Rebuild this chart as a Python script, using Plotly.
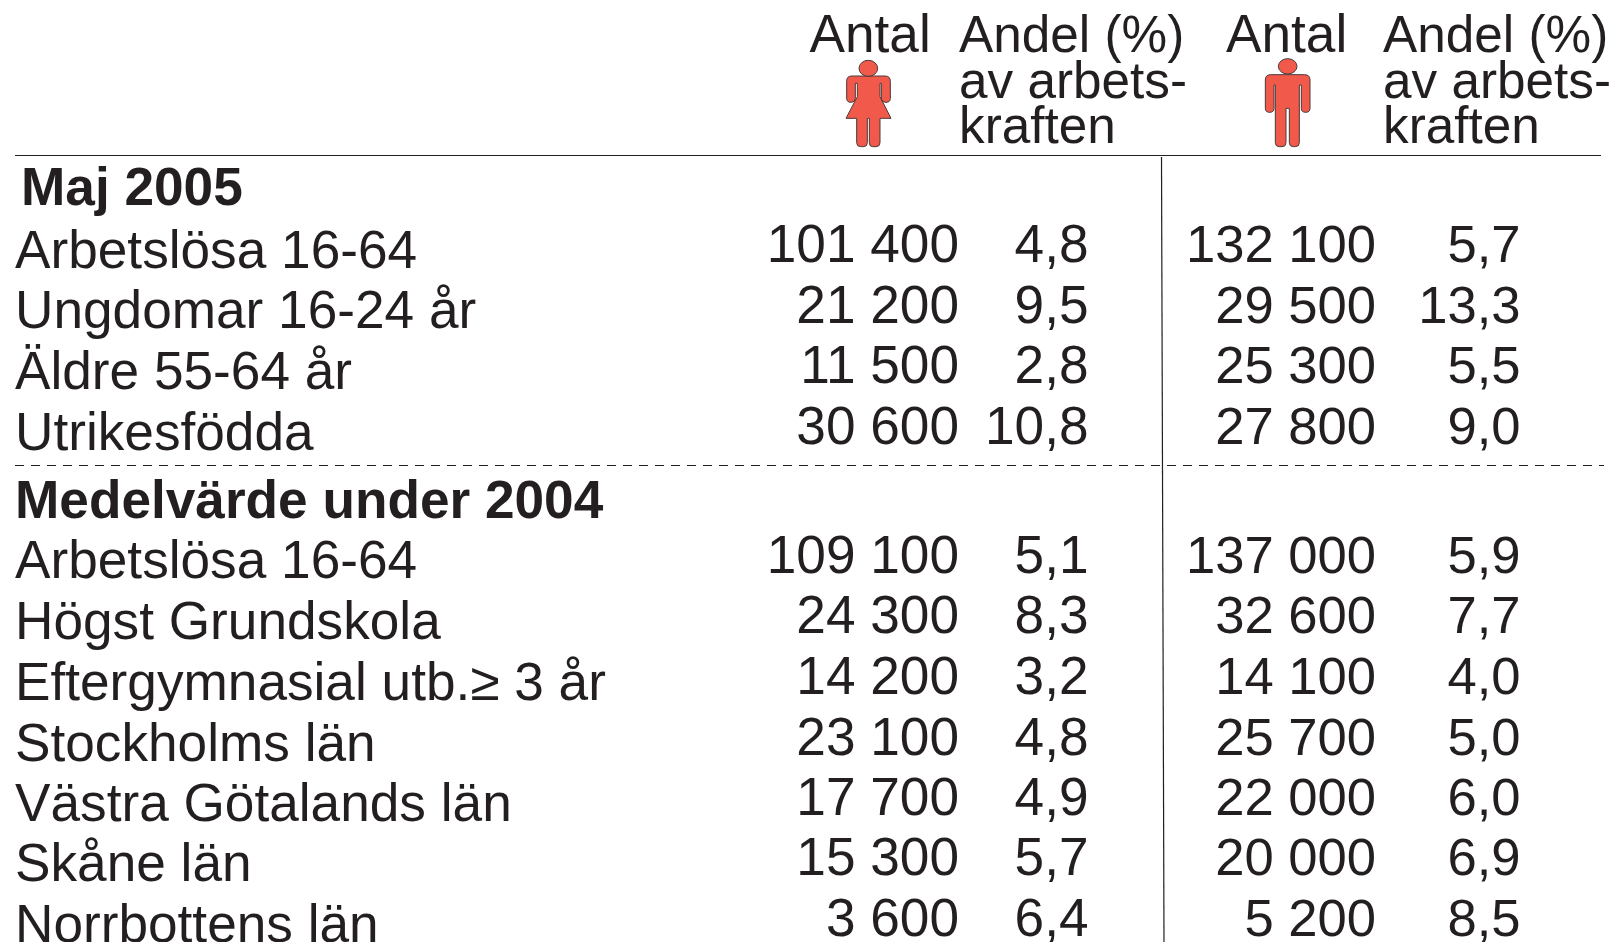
import plotly.graph_objects as go

W, H = 1613, 942
FONT = "Liberation Sans"
INK = "#231F20"
RED = "#F15A4A"
SIZE = 53.2

section_1 = "Maj 2005"
section_2 = "Medelvärde under 2004"
labels_1 = ["Arbetslösa 16-64", "Ungdomar 16-24 år", "Äldre 55-64 år", "Utrikesfödda"]
labels_2 = ["Arbetslösa 16-64", "Högst Grundskola", "Eftergymnasial utb.≥ 3 år", "Stockholms län",
            "Västra Götalands län", "Skåne län", "Norrbottens län"]
women_count = ["101 400", "21 200", "11 500", "30 600", "109 100", "24 300", "14 200", "23 100", "17 700", "15 300", "3 600"]
women_share = ["4,8", "9,5", "2,8", "10,8", "5,1", "8,3", "3,2", "4,8", "4,9", "5,7", "6,4"]
men_count = ["132 100", "29 500", "25 300", "27 800", "137 000", "32 600", "14 100", "25 700", "22 000", "20 000", "5 200"]
men_share = ["5,7", "13,3", "5,5", "9,0", "5,9", "7,7", "4,0", "5,0", "6,0", "6,9", "8,5"]
head_antal = "Antal"
head_andel = ["Andel (%)", "av arbets-", "kraften"]

# layout (pixel-based table grid)
row_y = [249, 309.5, 370, 431, 559.5, 620, 681, 741.8, 802, 862.2, 923]
label_dy = 5.5
LABEL_X = 15
COL_X = [959, 1088.5, 1376, 1520.5]
COL_SIZE = [SIZE, SIZE, 52.6, 52.6]

fig = go.Figure()

def text(xs, ys, strs, pos, bold=False, size=SIZE):
    fig.add_trace(go.Scatter(
        x=xs, y=ys, text=strs, mode="text", textposition=pos, cliponaxis=False, hoverinfo="skip",
        textfont=dict(family=FONT, size=size, color=INK, weight=700 if bold else 400),
        showlegend=False))

labels = labels_1 + labels_2
text([LABEL_X] * len(labels), [y + label_dy for y in row_y], labels, "middle right")
text([21, 15], [192, 505], [section_1, section_2], "middle right", bold=True)
for cx, cs, vals in zip(COL_X, COL_SIZE, [women_count, women_share, men_count, men_share]):
    text([cx] * len(vals), row_y, vals, "middle left", size=cs)

# headers
text([809.5, 1226], [39, 39], [head_antal, head_antal], "middle right", size=53.2)
for x0 in (959, 1383):
    text([x0] * 3, [39, 85, 130.5], head_andel, "middle right", size=51.3)

# rules
shapes = [
    dict(type="line", x0=15, x1=1601, y0=155.5, y1=155.5, line=dict(color=INK, width=1.2)),
    dict(type="line", x0=15, x1=1604, y0=465.5, y1=465.5, line=dict(color=INK, width=1, dash="9px,7px")),
    dict(type="line", x0=1161.5, x1=1164, y0=157, y1=942, line=dict(color=INK, width=1.2)),
]

WOMAN = [("M",215,228),("L",315,228),("Q",331,228,331,244),("L",331,295),("Q",331,307,318,307),("Q",305,307,304,296),
         ("L",304,250),("L",300,250),("L",300,290),("L",333,355),("L",300,355),("L",300,428),("Q",300,440,288,440),
         ("L",278,440),("Q",268,440,268,428),("L",268,355),("L",262,355),("L",262,428),("Q",262,440,250,440),
         ("L",242,440),("Q",230,440,230,428),("L",230,355),("L",198,355),("L",232,290),("L",232,250),("L",226,250),
         ("L",226,296),("Q",225,307,213,307),("Q",200,307,200,295),("L",200,244),("Q",200,228,215,228)]
MAN = [("M",212,224),("L",314,224),("Q",330,224,330,240),("L",330,325),("Q",330,337,317,337),("Q",304,337,304,325),
       ("L",304,255),("L",298,255),("L",298,428),("Q",298,440,286,440),("L",280,440),("Q",268,440,268,428),
       ("L",268,325),("L",258,325),("L",258,428),("Q",258,440,246,440),("L",238,440),("Q",226,440,226,428),
       ("L",226,255),("L",222,255),("L",222,325),("Q",222,337,209,337),("Q",196,337,196,325),("L",196,240),
       ("Q",196,224,212,224)]

def icon(cmds, ox, head):
    parts = []
    for c in cmds:
        pts = c[1:]
        coords = " ".join(f"{ox + pts[i] / 3:.2f},{pts[i + 1] / 3:.2f}" for i in range(0, len(pts), 2))
        parts.append(f"{c[0]} {coords}")
    style = dict(fillcolor=RED, line=dict(color="#4A3A38", width=1))
    shapes.append(dict(type="path", path=" ".join(parts) + " Z", **style))
    hx, hy, rx, ry = head
    shapes.append(dict(type="circle", x0=ox + (hx - rx) / 3, x1=ox + (hx + rx) / 3,
                       y0=(hy - ry) / 3, y1=(hy + ry) / 3, **style))

icon(WOMAN, 780, (265, 205, 28, 24))
icon(MAN, 1200, (263, 199, 28, 23))

fig.update_layout(
    width=W, height=H, margin=dict(l=0, r=0, t=0, b=0), paper_bgcolor="white", plot_bgcolor="white",
    xaxis=dict(range=[0, W], visible=False, fixedrange=True),
    yaxis=dict(range=[H, 0], visible=False, fixedrange=True),
    shapes=shapes, showlegend=False,
)
fig.write_html("out.html", config={"displayModeBar": False},
               post_script="document.body.style.margin='0';document.body.style.overflow='hidden';")
